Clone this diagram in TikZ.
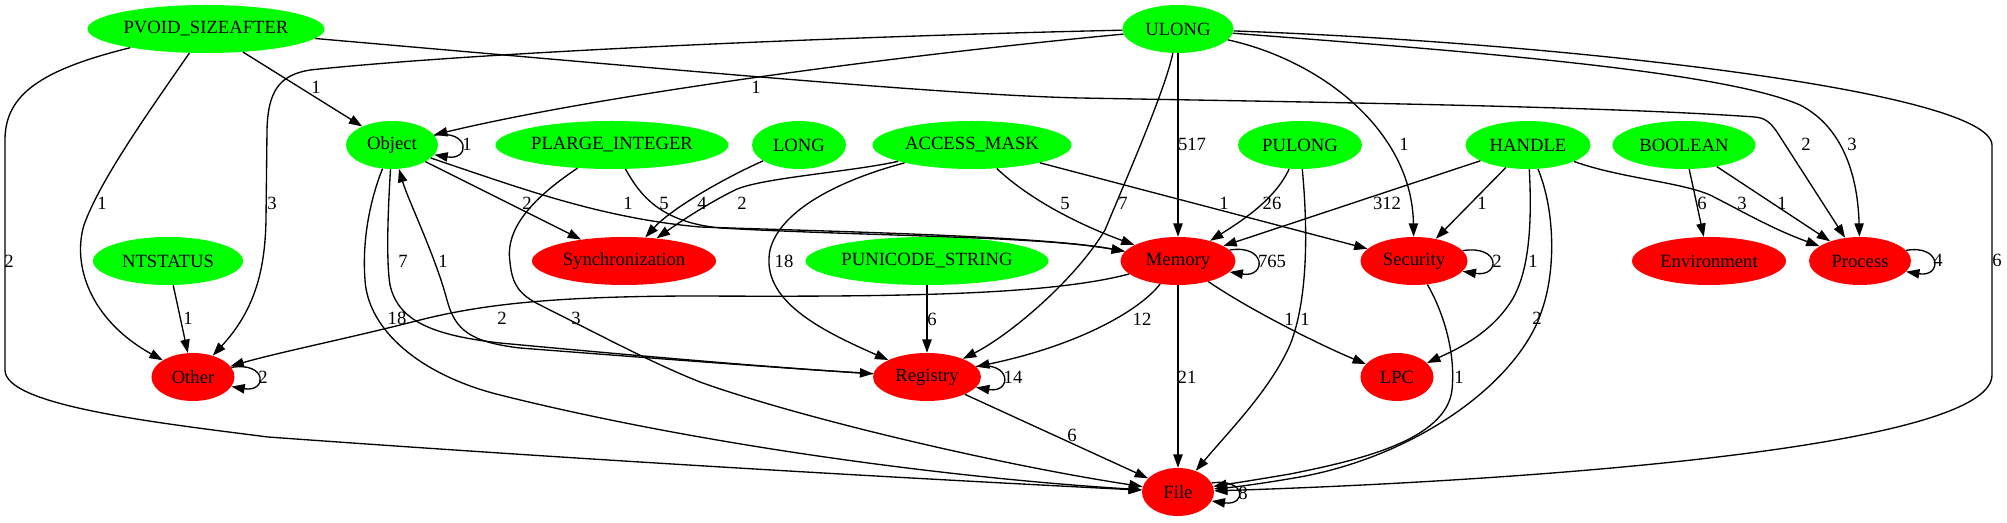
\documentclass[tikz,border=0pt]{standalone}
\usepackage{fontspec}
\setmainfont{Liberation Serif}
\usetikzlibrary{shapes.geometric,arrows.meta}
\begin{document}
\begin{tikzpicture}[x=0.75pt,y=-0.75pt,
  gn/.style={ellipse,fill=green,draw=none,minimum height=36pt,inner sep=0pt,font=\fontsize{14}{16}\selectfont},
  rn/.style={gn,fill=red},
  lbl/.style={inner sep=0pt,font=\fontsize{14}{16}\selectfont},
  e/.style={line width=1pt,-{Triangle[length=10pt,width=7pt]}},
]
\useasboundingbox (0,0) rectangle (2007,523);
% ---- nodes
\node[gn,minimum width=177.8pt] (pvoid) at (206,29) {PVOID\_SIZEAFTER};
\node[gn,minimum width=83.3pt] (ulong) at (1178,29) {ULONG};
\node[gn,minimum width=69pt] (object) at (392,145) {Object};
\node[gn,minimum width=174.8pt] (plarge) at (612,145) {PLARGE\_INTEGER};
\node[gn,minimum width=70.5pt] (long) at (799,145) {LONG};
\node[gn,minimum width=149.3pt] (access) at (972,145) {ACCESS\_MASK};
\node[gn,minimum width=93pt] (pulong) at (1300,145) {PULONG};
\node[gn,minimum width=93.8pt] (handle) at (1528,145) {HANDLE};
\node[gn,minimum width=107.3pt] (boolean) at (1684,145) {BOOLEAN};
\node[gn,minimum width=112.5pt] (ntstatus) at (168,261) {NTSTATUS};
\node[rn,minimum width=138pt] (sync) at (624,261) {Synchronization};
\node[gn,minimum width=182.3pt] (punicode) at (927,261) {PUNICODE\_STRING};
\node[rn,minimum width=86.3pt] (memory) at (1178,261) {Memory};
\node[rn,minimum width=80.3pt] (security) at (1414,261) {Security};
\node[rn,minimum width=115.5pt] (env) at (1709,261) {Environment};
\node[rn,minimum width=76.5pt] (process) at (1860,261) {Process};
\node[rn,minimum width=62.3pt] (other) at (193,377) {Other};
\node[rn,minimum width=81pt] (registry) at (927,377) {Registry};
\node[rn,minimum width=54.8pt] (lpc) at (1397,377) {LPC};
\node[rn,minimum width=54pt] (file) at (1178,492) {File};
% ---- edges from PVOID_SIZEAFTER
\draw[e] (pvoid) -- (object);
\draw[e] (pvoid) .. controls (150,110) and (100,180) .. (84,225) .. controls (72,265) and (90,320) .. (other);
\draw[e] (pvoid) .. controls (40,70) and (5,95) .. (5,140) -- (5,370) .. controls (5,405) and (150,422) .. (268,437) .. controls (600,461) and (900,478) .. (file);
\draw[e] (pvoid) .. controls (700,72) and (950,95) .. (1080,98) .. controls (1300,102) and (1600,106) .. (1755,117) .. controls (1765,118) and (1770,122) .. (1777,132) -- (process);
% ---- edges from ULONG
\draw[e] (ulong) .. controls (900,55) and (600,95) .. (object);
\draw[e] (ulong) .. controls (900,35) and (500,50) .. (310,70) .. controls (280,75) and (268,90) .. (267,130) -- (266,220) .. controls (265,270) and (255,310) .. (other);
\draw[e] (ulong) -- (memory);
\draw[e] (ulong) .. controls (1165,90) and (1130,170) .. (1105,230) .. controls (1075,280) and (1010,335) .. (registry);
\draw[e] (ulong) .. controls (1320,60) and (1412,130) .. (security);
\draw[e] (ulong) .. controls (1450,50) and (1720,70) .. (1800,105) .. controls (1845,128) and (1858,180) .. (process);
\draw[e] (ulong) .. controls (1550,42) and (1990,90) .. (1992,145) -- (1992,375) .. controls (1992,450) and (1500,482) .. (file);
% ---- edges from Object
\draw[e] (object.13) .. controls +(36,-6) and +(36,6) .. (object.-13);
\draw[e] (object) -- (sync);
\draw[e] (object) .. controls (520,188) and (600,218) .. (700,227) .. controls (850,232) and (1040,236) .. (memory);
\draw[e] (object) .. controls (388,210) and (386,260) .. (390,285) .. controls (398,320) and (430,335) .. (500,343) .. controls (650,357) and (780,368) .. (registry);
\draw[e] (object) .. controls (370,200) and (362,240) .. (365,280) .. controls (368,330) and (420,375) .. (500,395) .. controls (700,445) and (950,478) .. (file);
\draw[e] (registry) .. controls (780,368) and (650,358) .. (520,348) .. controls (470,342) and (455,330) .. (447,300) .. controls (435,255) and (408,200) .. (object);
% ---- PLARGE_INTEGER, LONG, ACCESS_MASK
\draw[e] (plarge) .. controls (640,195) and (660,222) .. (720,228) .. controls (860,236) and (1040,236) .. (memory);
\draw[e] (plarge) .. controls (530,200) and (505,230) .. (510,262) .. controls (512,285) and (520,295) .. (540,305) .. controls (600,335) and (650,362) .. (700,382) .. controls (800,418) and (1000,465) .. (file);
\draw[e] (long) .. controls (720,180) and (670,210) .. (sync);
\draw[e] (access) .. controls (850,172) and (760,178) .. (735,190) .. controls (705,205) and (680,222) .. (sync);
\draw[e] (access) .. controls (840,180) and (780,210) .. (770,250) .. controls (760,300) and (820,330) .. (registry);
\draw[e] (access) .. controls (1030,200) and (1080,225) .. (memory);
\draw[e] (access) -- (security);
% ---- PULONG, HANDLE, BOOLEAN
\draw[e] (pulong) .. controls (1275,200) and (1240,222) .. (memory);
\draw[e] (pulong) .. controls (1308,230) and (1308,300) .. (1290,345) .. controls (1270,390) and (1230,430) .. (file);
\draw[e] (handle) -- (memory);
\draw[e] (handle) -- (security);
\draw[e] (handle) .. controls (1532,220) and (1530,270) .. (1512,300) .. controls (1490,335) and (1455,350) .. (lpc);
\draw[e] (handle) .. controls (1555,210) and (1556,270) .. (1542,310) .. controls (1520,380) and (1420,455) .. (1300,477) .. controls (1260,484) and (1235,487) .. (file);
\draw[e] (handle) .. controls (1620,178) and (1680,182) .. (1710,195) .. controls (1740,210) and (1770,228) .. (process);
\draw[e] (boolean) -- (env);
\draw[e] (boolean) -- (process);
% ---- NTSTATUS, PUNICODE_STRING
\draw[e] (ntstatus) -- (other);
\draw[e] (punicode) -- (registry);
% ---- Memory
\draw[e] (memory.12) .. controls +(37,-6) and +(37,6) .. (memory.-12);
\draw[e] (memory) .. controls (1050,295) and (900,297) .. (700,296) .. controls (550,296) and (480,305) .. (420,320) .. controls (350,338) and (280,352) .. (other);
\draw[e] (memory) .. controls (1140,310) and (1080,345) .. (registry);
\draw[e] (memory) -- (file);
\draw[e] (memory) .. controls (1250,310) and (1320,345) .. (lpc);
% ---- Security, Process, Other, Registry, File
\draw[e] (security.12) .. controls +(38,-6) and +(38,6) .. (security.-12);
\draw[e] (security) .. controls (1442,310) and (1456,350) .. (1452,390) .. controls (1446,440) and (1360,460) .. (1290,474) .. controls (1255,480) and (1235,483) .. (file);
\draw[e] (process.13) .. controls +(36,-6) and +(36,6) .. (process.-13);
\draw[e] (other.14) .. controls +(36,-6) and +(36,6) .. (other.-14);
\draw[e] (registry.12) .. controls +(36,-6) and +(36,6) .. (registry.-12);
\draw[e] (registry) -- (file);
\draw[e] (file.15) .. controls +(35,-5) and +(35,5) .. (file.-15);
% ---- labels
\node[lbl] (l01) at (316,87) {1};
\node[lbl] (l02) at (102,203) {1};
\node[lbl] (l03) at (9,261) {2};
\node[lbl] (l04) at (1806,144) {2};
\node[lbl] (l05) at (756,87) {1};
\node[lbl] (l06) at (272,203) {3};
\node[lbl] (l07) at (1192,144) {517};
\node[lbl] (l08) at (1123,203) {7};
\node[lbl] (l09) at (1404,144) {1};
\node[lbl] (l10) at (1852,144) {3};
\node[lbl] (l11) at (1997,260) {6};
\node[lbl] (l12) at (467,144) {1};
\node[lbl] (l13) at (527,203) {2};
\node[lbl] (l14) at (628,203) {1};
\node[lbl] (l15) at (403,261) {7};
\node[lbl] (l16) at (397,318) {18};
\node[lbl] (l17) at (443,261) {1};
\node[lbl] (l18) at (664,203) {5};
\node[lbl] (l19) at (576,318) {3};
\node[lbl] (l20) at (702,203) {4};
\node[lbl] (l21) at (742,203) {2};
\node[lbl] (l22) at (784,261) {18};
\node[lbl] (l23) at (1065,203) {5};
\node[lbl] (l24) at (1224,203) {1};
\node[lbl] (l25) at (1272,203) {26};
\node[lbl] (l26) at (1305,319) {1};
\node[lbl] (l27) at (1387,203) {312};
\node[lbl] (l28) at (1482,203) {1};
\node[lbl] (l29) at (1533,261) {1};
\node[lbl] (l30) at (1537,318) {2};
\node[lbl] (l31) at (1742,203) {3};
\node[lbl] (l32) at (1702,203) {6};
\node[lbl] (l33) at (1782,203) {1};
\node[lbl] (l34) at (188,318) {1};
\node[lbl] (l35) at (932,319) {6};
\node[lbl] (l36) at (1272,261) {765};
\node[lbl] (l37) at (502,318) {2};
\node[lbl] (l38) at (1142,319) {12};
\node[lbl] (l39) at (1187,377) {21};
\node[lbl] (l40) at (1289,319) {1};
\node[lbl] (l41) at (1497,261) {2};
\node[lbl] (l42) at (1459,377) {1};
\node[lbl] (l43) at (1938,260) {4};
\node[lbl] (l44) at (263,377) {2};
\node[lbl] (l45) at (1013,377) {14};
\node[lbl] (l46) at (1072,435) {6};
\node[lbl] (l47) at (1243,493) {8};
\end{tikzpicture}
\end{document}
